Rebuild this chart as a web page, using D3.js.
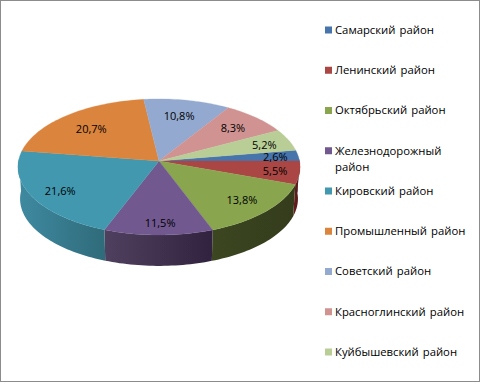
<!DOCTYPE html>
<html><head><meta charset="utf-8">
<script src="https://cdn.jsdelivr.net/npm/d3@7/dist/d3.min.js"></script>
<style>html,body{margin:0;padding:0;background:#fff}svg{display:block}text{font-family:"Open Sans","Noto Sans",sans-serif;fill:#000}</style>
</head><body><svg id="c" width="480" height="382"></svg>
<script>
const categories=["Самарский район","Ленинский район","Октябрьский район","Железнодорожный район","Кировский район","Промышленный район","Советский район","Красноглинский район","Куйбышевский район"];
const values=[2.6,5.5,13.8,11.5,21.6,20.7,10.8,8.3,5.2];
const topColors=["#4674ab","#aa4643","#89a54e","#71588f","#4198af","#db843d","#93a9cf","#d19392","#b9cd96"];
const sideLeft=["#2b4566","#6a1f1c","#3c4620","#50405f","#3f8aa1","#8f5526","#5f7296","#8a5f5e","#7a8a60"];
const sideRight=["#2b4566","#4e1614","#343c1c","#31233f","#2f6b7a","#8f5526","#5f7296","#8a5f5e","#7a8a60"];
const labelReach=[.81,.8,.78,.83,.82,.68,.64,.71,.77];
const labelDx=[3.5,4,1,1.5,4.5,-4,1.5,4,5];
const labelDy=[1,1,0,2,1,0,-5,-1,0];
const W=480,H=382,tilt=.088,depth=32,shrink=.985,firstAngle=80.64*Math.PI/180;
const svg=d3.select("#c");
svg.append("rect").attr("x",.5).attr("y",.5).attr("width",W-1).attr("height",H-1).attr("fill","#fff").attr("stroke","#8c8c8c");
const sx=d3.scaleLinear().domain([-1,1]).range([18.5,299.5]);
const sy=d3.scaleLinear().domain([-1,1]).range([93.5,228.5]);
const pie=d3.pie().sort(null).value(d=>d).startAngle(firstAngle).endAngle(firstAngle+2*Math.PI);
const arcs=pie(values);
function proj(a,f=1,low=false){
  const u=Math.sin(a)*f,v=-Math.cos(a)*f,w=1-tilt*v;
  let x=sx(u/w),y=sy(v/w);
  if(low){x=sx(0)+(x-sx(0))*shrink;y=sy(0)+(y-sy(0))*shrink+depth;}
  return [x,y];
}
const line=d3.line();
const defs=svg.append("defs");
function steps(a0,a1){const n=Math.max(2,Math.ceil((a1-a0)*40));return d3.range(n+1).map(i=>a0+(a1-a0)*i/n);}
const nearA=Math.PI/2-.03,nearB=3*Math.PI/2+.03;
const g=svg.append("g");
arcs.forEach((d,i)=>{
  const a0=Math.max(d.startAngle,nearA),a1=Math.min(d.endAngle,nearB);
  if(a1<=a0)return;
  const top=steps(a0,a1).map(a=>proj(a));
  const bot=steps(a0,a1).map(a=>proj(a,1,true)).reverse();
  const id="s"+i;
  const xs=top.map(p=>p[0]).concat(bot.map(p=>p[0]));
  const gr=defs.append("linearGradient").attr("id",id).attr("gradientUnits","userSpaceOnUse")
    .attr("x1",d3.min(xs)).attr("x2",d3.max(xs)).attr("y1",0).attr("y2",0);
  gr.append("stop").attr("offset",0).attr("stop-color",sideLeft[i]);
  gr.append("stop").attr("offset",1).attr("stop-color",sideRight[i]);
  g.append("path").attr("d",line(top.concat(bot))+"Z").attr("fill",`url(#${id})`);
});
arcs.forEach((d,i)=>{
  const pts=[proj(0,0)].concat(steps(d.startAngle,d.endAngle).map(a=>proj(a)));
  g.append("path").attr("d",line(pts)+"Z").attr("fill",topColors[i]).attr("stroke",topColors[i]).attr("stroke-width",.3);
});
arcs.forEach((d,i)=>{
  const [x,y]=proj((d.startAngle+d.endAngle)/2,labelReach[i]);
  svg.append("text").attr("x",x+labelDx[i]).attr("y",y+labelDy[i]).attr("dy",".35em").attr("text-anchor","middle").attr("font-size",11)
    .text(String(values[i]).replace(".",",")+"%");
});
const ly=d3.scaleLinear().domain([0,8]).range([30,352]);
const leg=svg.append("g");
categories.forEach((c,i)=>{
  const y=ly(i);
  leg.append("rect").attr("x",325).attr("y",y-3.5).attr("width",7).attr("height",7).attr("fill",topColors[i]);
  const words=i===3?c.split(" "):[c];
  words.forEach((t,k)=>leg.append("text").attr("x",335).attr("y",y+k*16).attr("dy",".35em").attr("font-size",11.3).attr("word-spacing",1.2).text(t));
});
</script></body></html>
